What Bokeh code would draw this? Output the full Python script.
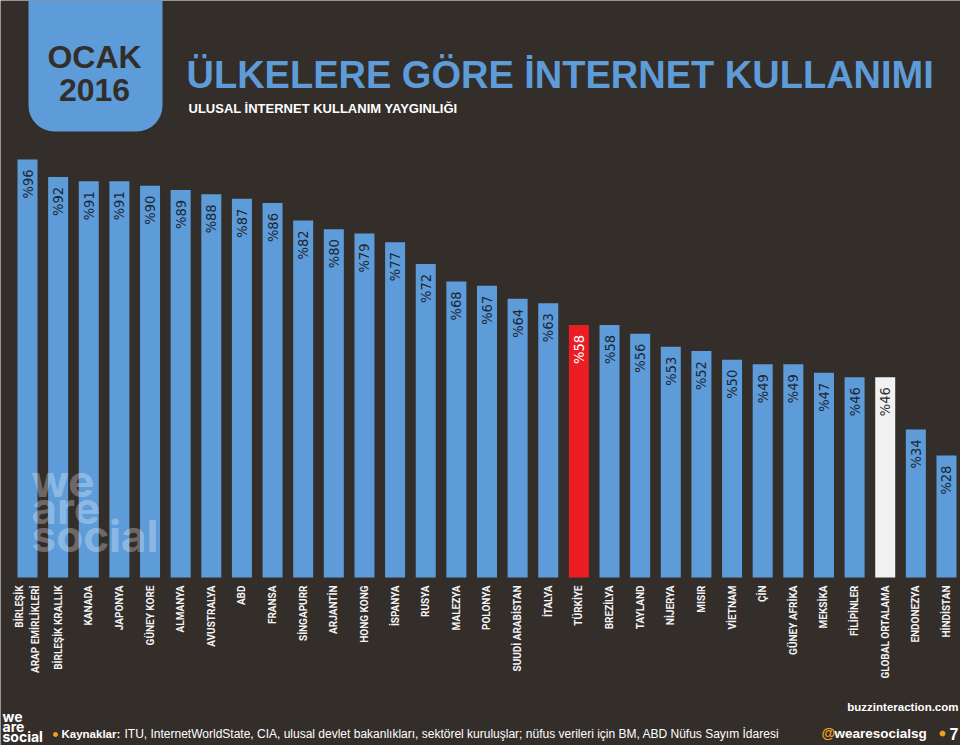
from math import pi

from bokeh.plotting import figure
from bokeh.models import Range1d, BoxAnnotation, ColumnDataSource
from bokeh.core.properties import value
from bokeh.embed import file_html
from bokeh.resources import INLINE

# ---------------- data ----------------
categories = [
    "BİRLEŞİK\nARAP EMİRLİKLERİ", "BİRLEŞİK KRALLIK", "KANADA", "JAPONYA",
    "GÜNEY KORE", "ALMANYA", "AVUSTRALYA", "ABD", "FRANSA", "SİNGAPURR",
    "ARJANTİN", "HONG KONG", "İSPANYA", "RUSYA", "MALEZYA", "POLONYA",
    "SUUDİ ARABİSTAN", "İTALYA", "TÜRKİYE", "BREZİLYA", "TAYLAND", "NİJERYA",
    "MISIR", "VİETNAM", "ÇİN", "GÜNEY AFRİKA", "MEKSİKA", "FİLİPİNLER",
    "GLOBAL ORTALAMA", "ENDONEZYA", "HİNDİSTAN",
]
values = [96, 92, 91, 91, 90, 89, 88, 87, 86, 82, 80, 79, 77, 72, 68, 67,
          64, 63, 58, 58, 56, 53, 52, 50, 49, 49, 47, 46, 46, 34, 28]
highlight_country = "TÜRKİYE"
average_label = "GLOBAL ORTALAMA"

badge_lines = ["OCAK", "2016"]
title = "ÜLKELERE GÖRE İNTERNET KULLANIMI"
subtitle = "ULUSAL İNTERNET KULLANIM YAYGINLIĞI"
watermark_lines = ["we", "are", "social"]
source_bold = "Kaynaklar:"
source_text = ("ITU, InternetWorldState, CIA, ulusal devlet bakanlıkları, sektörel "
               "kuruluşlar; nüfus verileri için BM, ABD Nüfus Sayım İdaresi")
credit = "buzzinteraction.com"
handle = "wearesocialsg"
page_no = "7"

# ---------------- style ----------------
W, H = 960, 745
BG = "#342e2b"
BLUE = "#5d9cd9"
RED = "#ec1c24"
WHITE = "#f1f1f1"
ORANGE = "#f2a31b"
DARK_TXT = "#1c2736"
COND = value("DejaVu Sans Condensed, DejaVu Sans")

XS = 30.633              # px per category
X0 = -27 / XS
YS = 4.354               # px per percent
Y_END = 577 / YS


def dx(sx):
    return X0 + sx / XS


def dy(sy):
    return Y_END - sy / YS


def base_y(sy, fs):
    # compensate the renderer's baseline placement
    return dy(sy - 0.37 * fs)


p = figure(width=W, height=H,
           x_range=Range1d(X0, X0 + W / XS),
           y_range=Range1d(Y_END - H / YS, Y_END),
           x_axis_location=None, y_axis_location=None,
           output_backend="svg", toolbar_location=None, min_border=0,
           background_fill_color=BG, border_fill_color=BG,
           outline_line_color=None)
p.grid.visible = False

idx = list(range(len(categories)))
colors = [RED if c == highlight_country else WHITE if c == average_label else BLUE
          for c in categories]
label_colors = ["#ffffff" if c == highlight_country else "#333333" if c == average_label
                else DARK_TXT for c in categories]
labels = ["%" + str(v) for v in values]
label_y = [v - 10 / YS for v in values]

src = ColumnDataSource(dict(x=idx, top=values, color=colors, label=labels,
                            label_y=label_y, label_color=label_colors, cat=categories))

p.vbar(x="x", top="top", bottom=0, width=20 / XS, fill_color="color",
       line_color=None, source=src)

p.text(x="x", y="label_y", text="label", angle=pi / 2, text_align="right",
       text_baseline="middle", text_color="label_color",
       text_font=COND, text_font_size="14.5px", source=src)

p.text(x="x", y=dy(585), text="cat", angle=pi / 2, text_align="right",
       text_baseline="middle", text_color="#f4f4f4", text_line_height=1.4,
       text_font=value("Roboto"), text_font_style="bold", text_font_size="10px",
       source=src)

# watermark
for line, base in zip(watermark_lines, [497, 524, 552]):
    p.text(x=[dx(31)], y=[base_y(base, 44)], text=[line], text_baseline="alphabetic",
           text_color="#ffffff", text_alpha=0.3, text_font=value("Inter"),
           text_font_style="bold", text_font_size="44px")

# header badge
badge = BoxAnnotation(left=dx(28), right=dx(162), top=dy(-10), bottom=dy(131),
                      fill_color=BLUE, fill_alpha=1, line_color=None,
                      border_radius=dict(top_left=0, top_right=0,
                                         bottom_right=26, bottom_left=26),
                      level="underlay")
p.add_layout(badge)
for line, base in zip(badge_lines, [68, 101]):
    p.text(x=[dx(94)], y=[base_y(base, 32)], text=[line], text_align="center",
           text_baseline="alphabetic", text_color=BG,
           text_font=value("Liberation Sans"), text_font_style="bold",
           text_font_size="32px")

p.text(x=[dx(186)], y=[base_y(89, 38)], text=[title], text_baseline="alphabetic",
       text_color=BLUE, text_font=value("Liberation Sans"), text_font_style="bold",
       text_font_size="38px")
p.text(x=[dx(188)], y=[base_y(113, 13)], text=[subtitle], text_baseline="alphabetic",
       text_color="#ffffff", text_font=value("Liberation Sans"),
       text_font_style="bold", text_font_size="13px")

# footer
for line, base in zip(watermark_lines, [721, 731, 741]):
    p.text(x=[dx(2)], y=[base_y(base, 14)], text=[line], text_baseline="alphabetic",
           text_color="#ffffff", text_font=value("Inter"), text_font_style="bold",
           text_font_size="14px")

p.scatter(x=[dx(55)], y=[dy(734)], size=4, color=ORANGE)
p.text(x=[dx(61)], y=[base_y(738, 11.5)], text=[source_bold], text_baseline="alphabetic",
       text_color="#ffffff", text_font=value("Liberation Sans"),
       text_font_style="bold", text_font_size="11.5px")
p.text(x=[dx(124)], y=[base_y(738, 12)], text=[source_text], text_baseline="alphabetic",
       text_color="#ffffff", text_font=value("Liberation Sans"),
       text_font_size="12px")

p.text(x=[dx(958)], y=[base_y(711, 11.5)], text=[credit], text_align="right",
       text_baseline="alphabetic", text_color="#ffffff",
       text_font=value("Liberation Sans"), text_font_style="bold",
       text_font_size="11.5px")
p.text(x=[dx(821)], y=[base_y(738, 14)], text=["@"], text_baseline="alphabetic",
       text_color=ORANGE, text_font=value("Liberation Sans"),
       text_font_style="bold", text_font_size="14px")
p.text(x=[dx(834)], y=[base_y(738, 13.5)], text=[handle], text_baseline="alphabetic",
       text_color="#ffffff", text_font=value("Liberation Sans"),
       text_font_style="bold", text_font_size="13.5px")
p.scatter(x=[dx(942)], y=[dy(733)], size=5, color=ORANGE)
p.text(x=[dx(958)], y=[base_y(739, 16)], text=[page_no], text_align="right",
       text_baseline="alphabetic", text_color="#ffffff",
       text_font=value("Liberation Sans"), text_font_style="bold",
       text_font_size="16px")

open("out.html", "w").write(file_html(p, INLINE))
